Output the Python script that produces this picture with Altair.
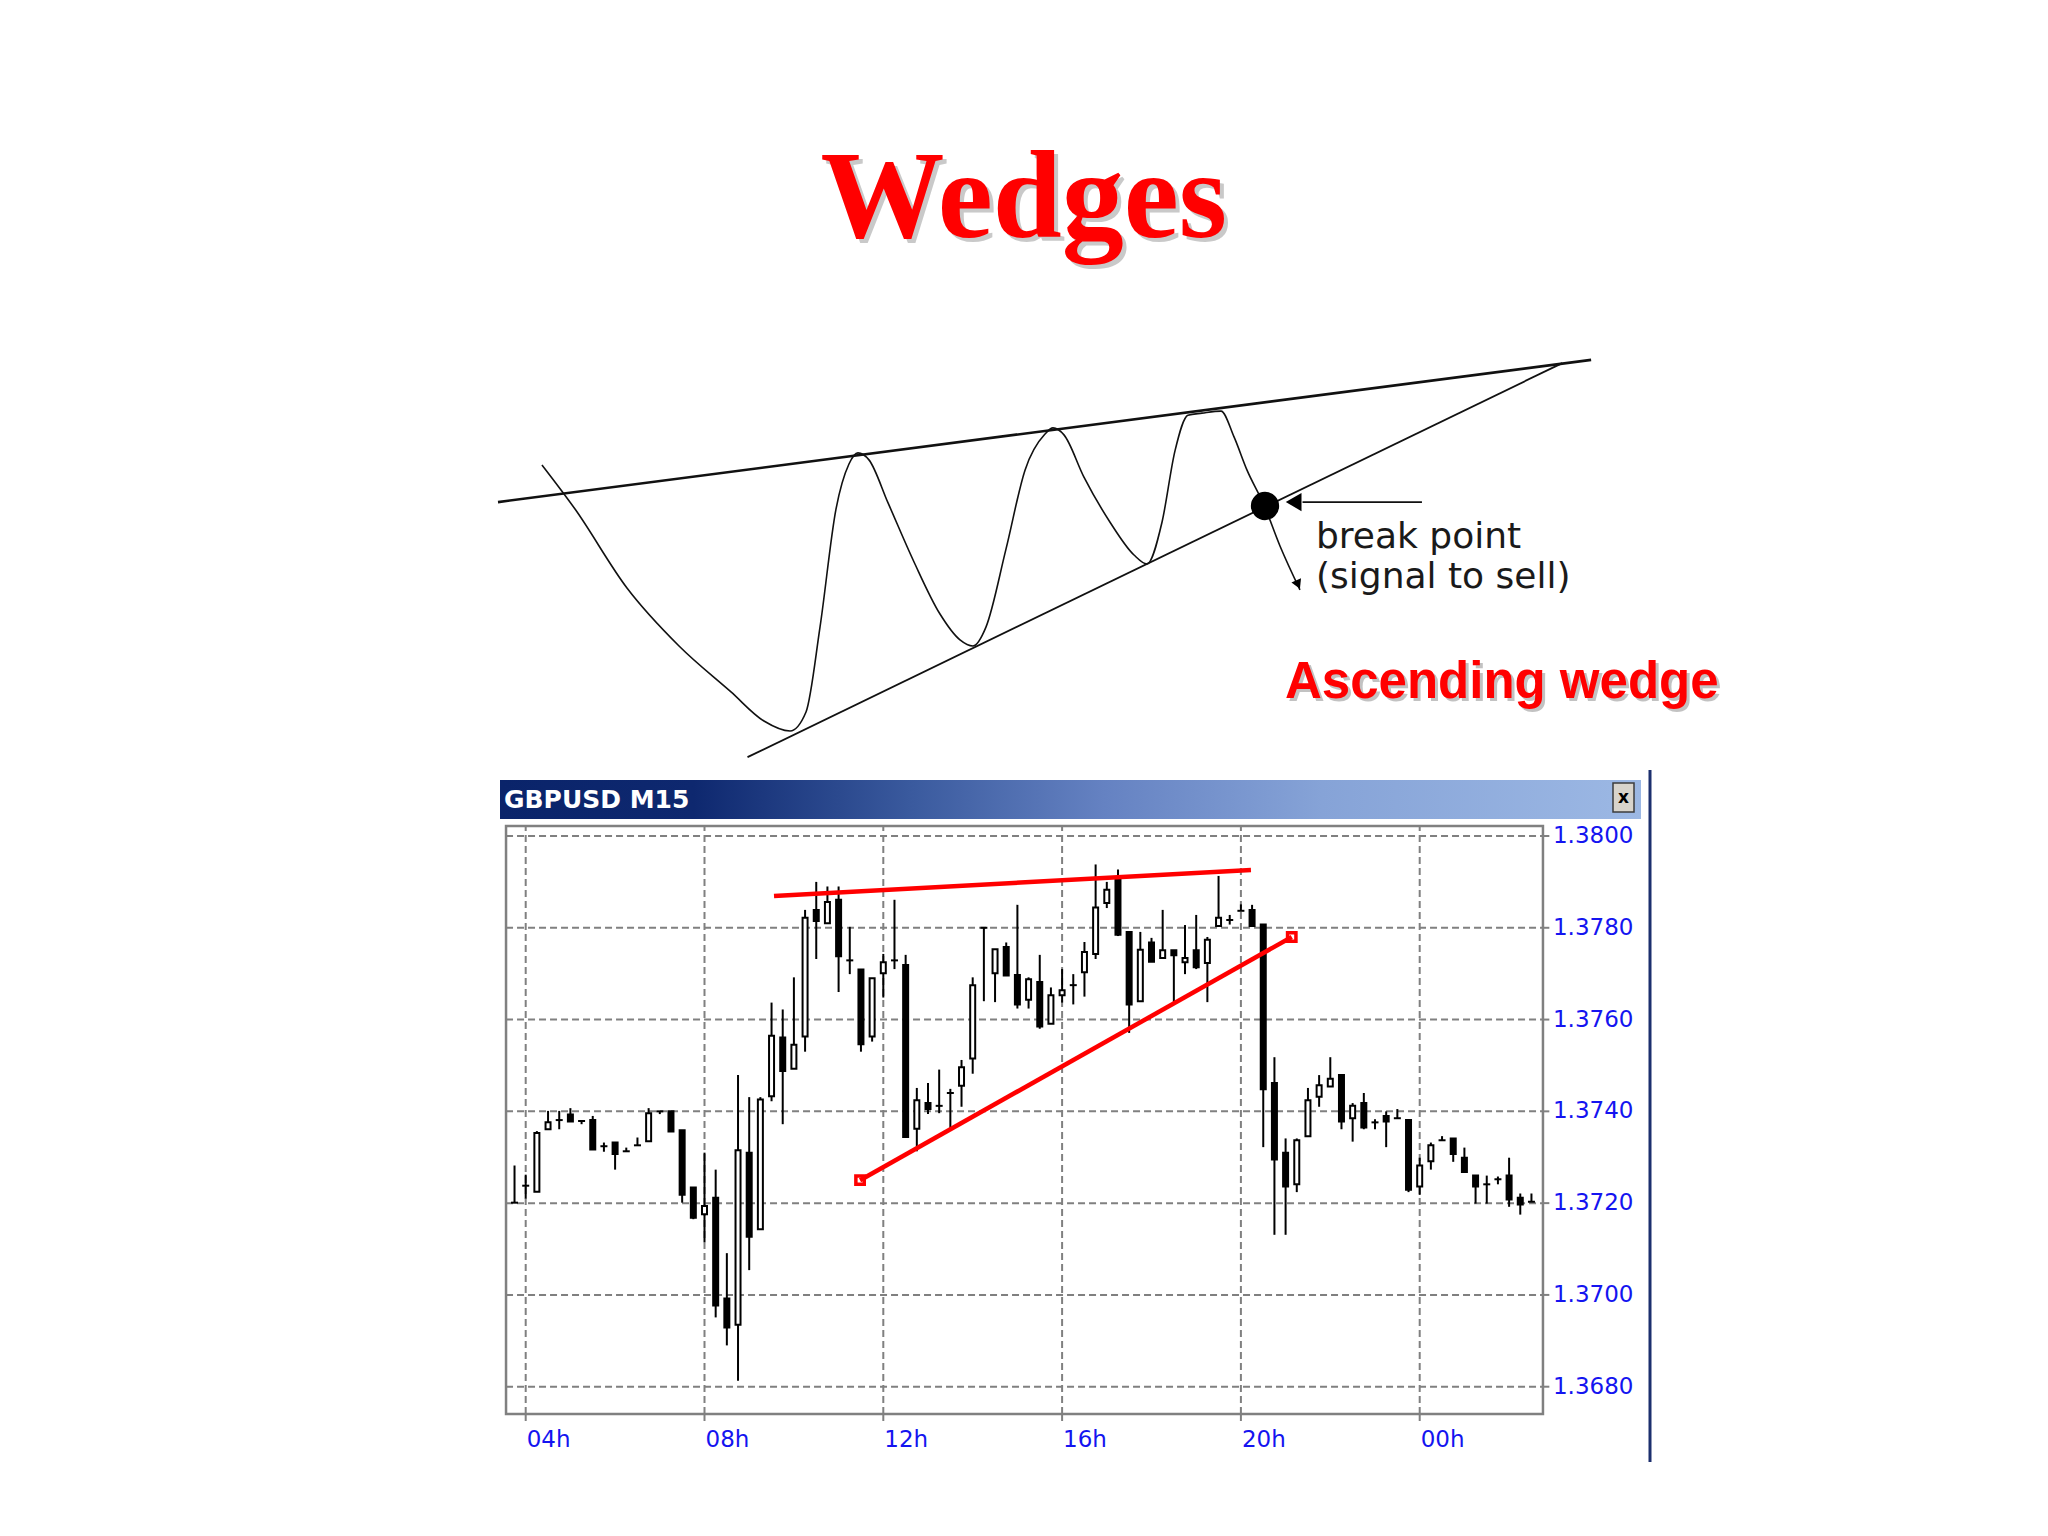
import altair as alt
import pandas as pd

# ---------------- GBPUSD M15 candles ----------------
OPEN = [1.37201, 1.37238, 1.37225, 1.37361, 1.37381, 1.37393, 1.37379, 1.37381, 1.37324, 1.37332,
        1.37313, 1.37326, 1.37335, 1.37400, 1.37400, 1.37359, 1.37234, 1.37176, 1.37212, 1.36992,
        1.36935, 1.37310, 1.37143, 1.37433, 1.37561, 1.37493, 1.37563, 1.37839, 1.37810, 1.37861,
        1.37729, 1.37709, 1.37563, 1.37701, 1.37729, 1.37719, 1.37362, 1.37418, 1.37412, 1.37440,
        1.37456, 1.37515, 1.37800, 1.37701, 1.37758, 1.37697, 1.37643, 1.37682, 1.37591, 1.37653,
        1.37675, 1.37703, 1.37743, 1.37854, 1.37905, 1.37791, 1.37640, 1.37768, 1.37734, 1.37751,
        1.37725, 1.37751, 1.37723, 1.37804, 1.37817, 1.37837, 1.37839, 1.37807, 1.37462, 1.37310,
        1.37241, 1.37346, 1.37432, 1.37454, 1.37479, 1.37385, 1.37418, 1.37376, 1.37390, 1.37385,
        1.37381, 1.37236, 1.37291, 1.37337, 1.37341, 1.37299, 1.37260, 1.37241, 1.37252, 1.37260,
        1.37212, 1.37203]
HIGH = [1.37282, 1.37262, 1.37357, 1.37401, 1.37401, 1.37407, 1.37379, 1.37390, 1.37332, 1.37332,
        1.37321, 1.37343, 1.37407, 1.37400, 1.37400, 1.37359, 1.37234, 1.37310, 1.37273, 1.37091,
        1.37479, 1.37431, 1.37431, 1.37637, 1.37622, 1.37692, 1.37839, 1.37900, 1.37890, 1.37890,
        1.37802, 1.37709, 1.37690, 1.37743, 1.37861, 1.37741, 1.37451, 1.37462, 1.37491, 1.37449,
        1.37512, 1.37692, 1.37800, 1.37753, 1.37768, 1.37850, 1.37692, 1.37741, 1.37670, 1.37710,
        1.37699, 1.37769, 1.37938, 1.37900, 1.37927, 1.37791, 1.37791, 1.37778, 1.37839, 1.37751,
        1.37806, 1.37828, 1.37780, 1.37913, 1.37828, 1.37851, 1.37850, 1.37807, 1.37518, 1.37341,
        1.37341, 1.37451, 1.37479, 1.37518, 1.37479, 1.37418, 1.37440, 1.37383, 1.37400, 1.37405,
        1.37381, 1.37299, 1.37332, 1.37346, 1.37341, 1.37321, 1.37260, 1.37260, 1.37258, 1.37299,
        1.37221, 1.37221]
LOW = [1.37201, 1.37210, 1.37225, 1.37361, 1.37361, 1.37378, 1.37372, 1.37317, 1.37312, 1.37273,
       1.37313, 1.37326, 1.37335, 1.37394, 1.37356, 1.37201, 1.37165, 1.37115, 1.36951, 1.36890,
       1.36813, 1.37054, 1.37143, 1.37422, 1.37372, 1.37493, 1.37530, 1.37732, 1.37810, 1.37660,
       1.37699, 1.37530, 1.37552, 1.37648, 1.37710, 1.37344, 1.37313, 1.37394, 1.37396, 1.37361,
       1.37410, 1.37482, 1.37640, 1.37638, 1.37696, 1.37624, 1.37624, 1.37580, 1.37591, 1.37637,
       1.37633, 1.37650, 1.37732, 1.37843, 1.37782, 1.37571, 1.37640, 1.37726, 1.37734, 1.37638,
       1.37699, 1.37710, 1.37638, 1.37804, 1.37807, 1.37837, 1.37804, 1.37322, 1.37131, 1.37131,
       1.37224, 1.37346, 1.37410, 1.37454, 1.37361, 1.37334, 1.37361, 1.37361, 1.37322, 1.37385,
       1.37224, 1.37218, 1.37273, 1.37337, 1.37290, 1.37268, 1.37199, 1.37199, 1.37241, 1.37192,
       1.37175, 1.37203]
CLOSE = [1.37201, 1.37238, 1.37353, 1.37376, 1.37381, 1.37378, 1.37379, 1.37317, 1.37324, 1.37307,
         1.37313, 1.37326, 1.37396, 1.37400, 1.37356, 1.37218, 1.37168, 1.37194, 1.36977, 1.36929,
         1.37315, 1.37127, 1.37426, 1.37565, 1.37488, 1.37545, 1.37822, 1.37815, 1.37856, 1.37738,
         1.37729, 1.37546, 1.37690, 1.37725, 1.37729, 1.37344, 1.37424, 1.37405, 1.37412, 1.37440,
         1.37496, 1.37675, 1.37800, 1.37753, 1.37696, 1.37633, 1.37688, 1.37585, 1.37653, 1.37664,
         1.37675, 1.37747, 1.37844, 1.37883, 1.37785, 1.37633, 1.37752, 1.37726, 1.37751, 1.37740,
         1.37734, 1.37714, 1.37774, 1.37822, 1.37817, 1.37837, 1.37804, 1.37448, 1.37295, 1.37236,
         1.37337, 1.37424, 1.37457, 1.37471, 1.37378, 1.37412, 1.37365, 1.37376, 1.37378, 1.37385,
         1.37229, 1.37282, 1.37326, 1.37337, 1.37307, 1.37268, 1.37236, 1.37241, 1.37252, 1.37208,
         1.37197, 1.37203]
BAR_INDEX = list(range(len(OPEN)))

PRICE_TICKS = [1.3680, 1.3700, 1.3720, 1.3740, 1.3760, 1.3780, 1.3800]
PRICE_LABELS = ["1.3680", "1.3700", "1.3720", "1.3740", "1.3760", "1.3780", "1.3800"]
TIME_TICK_BARS = [1, 17, 33, 49, 65, 81]
TIME_LABELS = ["04h", "08h", "12h", "16h", "20h", "00h"]

FRAME_BARS = [-0.76, 92.03]
FRAME_PRICES = [1.367405, 1.380218]
TICK_BELOW_PRICE = 1.367253
TICK_RIGHT_BAR = 92.6

UPPER_TREND_BARS = [23.22, 65.9]
UPPER_TREND_PRICES = [1.37869, 1.37926]
LOWER_TREND_BARS = [30.92, 69.55]
LOWER_TREND_PRICES = [1.37250, 1.37780]

# ---------------- wedge sketch (diagram units 0..100) ----------------
WAVE_U = [4.68, 7.66, 12.34, 17.03, 21.71, 24.68, 27.03, 28.47, 29.73, 31.17, 32.34, 33.15, 34.14,
          35.86, 38.2, 40.54, 42.34, 43.51, 44.68, 46.49, 48.2, 50.0, 50.72, 51.71, 53.51, 55.86,
          58.02, 59.19, 60.54, 61.71, 62.88, 64.14, 65.86, 67.03, 68.2, 69.73, 71.17, 72.97]
WAVE_V = [71.95, 61.2, 41.95, 27.8, 16.6, 9.5, 7.07, 11.7, 32.4, 61.2, 72.2, 74.9, 73.2,
          62.7, 48.3, 35.6, 29.3, 27.8, 32.4, 51.5, 70.7, 79.5, 81.0, 79.3, 69.0, 58.0,
          50.0, 47.8, 58.0, 75.4, 84.1, 84.6, 85.1, 78.8, 70.7, 62.2, 52.2, 41.5]
RESIST_U = [0.72, 99.2]
RESIST_V = [62.9, 97.6]
SUPPORT_U = [23.2, 96.6]
SUPPORT_V = [0.7, 96.8]
BREAK_U = [69.82]
BREAK_V = [61.95]
POINTER_U = [73.2, 83.96]
POINTER_V = [62.9, 62.9]
POINTER_HEAD_U = [72.4]
TIP_U = [72.8]
TIP_V = [42.8]

# ---------------- build tables ----------------
candles = pd.DataFrame({"i": BAR_INDEX, "o": OPEN, "h": HIGH, "l": LOW, "c": CLOSE})
candles["b0"] = candles[["o", "c"]].min(axis=1)
candles["b1"] = candles[["o", "c"]].max(axis=1)
candles["dir"] = ["up" if c > o else "down" for o, c in zip(OPEN, CLOSE)]
bodies = candles[candles["o"] != candles["c"]]
dojis = candles[candles["o"] == candles["c"]]

XS = alt.Scale(domain=[1, 81], range=[517.7, 1411.7], nice=False, zero=False, padding=0)
YS = alt.Scale(domain=[1.368, 1.380], range=[1378.7, 828], nice=False, zero=False, padding=0)


def X(f):
    return alt.X(f, type="quantitative", scale=XS, axis=None)


def Y(f):
    return alt.Y(f, type="quantitative", scale=YS, axis=None)


GRID = "#808080"
BLUE = "#1414f0"

hgrid = pd.DataFrame({"p": PRICE_TICKS, "lab": PRICE_LABELS,
                      "x0": FRAME_BARS[0], "x1": FRAME_BARS[1], "xr": TICK_RIGHT_BAR})
vgrid = pd.DataFrame({"i": TIME_TICK_BARS, "lab": TIME_LABELS,
                      "p0": FRAME_PRICES[0], "p1": FRAME_PRICES[1], "pb": TICK_BELOW_PRICE})
frame = pd.DataFrame({"x0": [FRAME_BARS[0]], "x1": [FRAME_BARS[1]],
                      "p0": [FRAME_PRICES[0]], "p1": [FRAME_PRICES[1]]})
trends = pd.DataFrame({"x0": [UPPER_TREND_BARS[0], LOWER_TREND_BARS[0]],
                       "x1": [UPPER_TREND_BARS[1], LOWER_TREND_BARS[1]],
                       "p0": [UPPER_TREND_PRICES[0], LOWER_TREND_PRICES[0]],
                       "p1": [UPPER_TREND_PRICES[1], LOWER_TREND_PRICES[1]]})
trend_ends = pd.DataFrame({"x": LOWER_TREND_BARS, "p": LOWER_TREND_PRICES})

h_dash = alt.Chart(hgrid).mark_rule(color=GRID, strokeWidth=2, strokeDash=[7, 4]).encode(
    x=X("x0"), x2="x1", y=Y("p"))
h_tick = alt.Chart(hgrid).mark_rule(color=GRID, strokeWidth=2).encode(
    x=X("x1"), x2="xr", y=Y("p"))
v_dash = alt.Chart(vgrid).mark_rule(color=GRID, strokeWidth=2, strokeDash=[7, 4]).encode(
    x=X("i"), y=Y("p0"), y2="p1")
v_tick = alt.Chart(vgrid).mark_rule(color=GRID, strokeWidth=2).encode(
    x=X("i"), y=Y("pb"), y2="p0")
frame_rect = alt.Chart(frame).mark_rect(filled=False, stroke=GRID, strokeWidth=2.5).encode(
    x=X("x0"), x2="x1", y=Y("p0"), y2="p1")
y_labels = alt.Chart(hgrid).mark_text(align="left", baseline="middle", dx=10, font="DejaVu Sans",
                                      fontSize=23, color=BLUE).encode(
    x=X("x1"), y=Y("p"), text="lab:N")
x_labels = alt.Chart(vgrid).mark_text(align="left", baseline="middle", dx=1, dy=26,
                                      font="DejaVu Sans", fontSize=23, color=BLUE).encode(
    x=X("i"), y=Y("p0"), text="lab:N")

wicks = alt.Chart(candles).mark_rule(color="black", strokeWidth=2).encode(
    x=X("i"), y=Y("l"), y2="h")
body = alt.Chart(bodies).mark_bar(size=5, stroke="black", strokeWidth=2).encode(
    x=X("i"), y=Y("b0"), y2="b1",
    fill=alt.Fill("dir:N", scale=alt.Scale(domain=["up", "down"], range=["white", "black"]),
                  legend=None))
doji = alt.Chart(dojis).mark_tick(orient="horizontal", size=7, thickness=2, color="black",
                                  opacity=1).encode(x=X("i"), y=Y("o"))
trend_lines = alt.Chart(trends).mark_rule(color="#ff0000", strokeWidth=4.5).encode(
    x=X("x0"), x2="x1", y=Y("p0"), y2="p1")
trend_marks = alt.Chart(trend_ends).mark_point(shape="square", size=70, filled=False,
                                               color="#ff0000", strokeWidth=3.5, opacity=1).encode(
    x=X("x"), y=Y("p"))

price_chart = alt.layer(h_dash, h_tick, v_dash, v_tick, frame_rect, wicks, body, doji,
                        trend_lines, trend_marks, y_labels, x_labels)

# ---------------- wedge sketch ----------------
DU = alt.Scale(domain=[0, 100], range=[482, 1592], nice=False, zero=False, padding=0)
DV = alt.Scale(domain=[0, 100], range=[752, 342], nice=False, zero=False, padding=0)


def U(f):
    return alt.X(f, type="quantitative", scale=DU, axis=None)


def V(f):
    return alt.Y(f, type="quantitative", scale=DV, axis=None)


wave = pd.DataFrame({"u": WAVE_U, "v": WAVE_V, "k": list(range(len(WAVE_U)))})
bounds = pd.DataFrame({"u0": [RESIST_U[0], SUPPORT_U[0]], "u1": [RESIST_U[1], SUPPORT_U[1]],
                       "v0": [RESIST_V[0], SUPPORT_V[0]], "v1": [RESIST_V[1], SUPPORT_V[1]],
                       "w": ["r", "s"]})
pointer = pd.DataFrame({"u0": [POINTER_U[0]], "u1": [POINTER_U[1]],
                        "v0": [POINTER_V[0]], "v1": [POINTER_V[1]]})

wave_line = alt.Chart(wave).mark_line(color="#111111", strokeWidth=1.6, interpolate="monotone").encode(
    x=U("u"), y=V("v"), order="k:Q")
resist = alt.Chart(bounds[bounds.w == "r"]).mark_rule(color="#111111", strokeWidth=2.6).encode(
    x=U("u0"), x2="u1", y=V("v0"), y2="v1")
support = alt.Chart(bounds[bounds.w == "s"]).mark_rule(color="#111111", strokeWidth=1.8).encode(
    x=U("u0"), x2="u1", y=V("v0"), y2="v1")
break_dot = alt.Chart(pd.DataFrame({"u": BREAK_U, "v": BREAK_V})).mark_point(
    filled=True, size=800, color="black", opacity=1).encode(x=U("u"), y=V("v"))
pointer_line = alt.Chart(pointer).mark_rule(color="#111111", strokeWidth=1.8).encode(
    x=U("u0"), x2="u1", y=V("v0"), y2="v1")
pointer_head = alt.Chart(pd.DataFrame({"u": POINTER_HEAD_U, "v": POINTER_V[:1]})).mark_point(
    shape="triangle-left", filled=True, size=330, color="black", opacity=1).encode(x=U("u"), y=V("v"))
tip_head = alt.Chart(pd.DataFrame({"u": TIP_U, "v": TIP_V})).mark_point(
    shape="triangle-down", filled=True, size=110, angle=336, color="black", opacity=1).encode(
    x=U("u"), y=V("v"))

sketch = alt.layer(resist, support, wave_line, pointer_line, pointer_head, break_dot, tip_head)

# ---------------- page furniture (text, window header) ----------------
dummy = pd.DataFrame({"d": [0]})


def txt(s, x, y, **kw):
    return alt.Chart(dummy).mark_text(text=s, **kw).encode(x=alt.value(x), y=alt.value(y))


title_shadow = txt("Wedges", 1019.7, 232.7, align="center", baseline="alphabetic",
                   font="Liberation Serif", fontWeight="bold", fontSize=124, color="#8a8a8a",
                   opacity=0.45)
title = txt("Wedges", 1015.7, 228.7, align="center", baseline="alphabetic",
            font="Liberation Serif", fontWeight="bold", fontSize=124, color="#ff0000")
asc_shadow = txt("Ascending wedge", 1280, 693.3, align="left", baseline="alphabetic",
                 font="Liberation Sans", fontWeight="bold", fontSize=51, color="#7a7a7a", opacity=0.45)
asc = txt("Ascending wedge", 1277, 690.3, align="left", baseline="alphabetic",
          font="Liberation Sans", fontWeight="bold", fontSize=51, color="#ff0000")
bp1 = txt("break point", 1308, 540, align="left", baseline="alphabetic",
          font="DejaVu Sans", fontSize=36, color="#1a1a1a")
bp2 = txt("(signal to sell)", 1308, 580, align="left", baseline="alphabetic",
          font="DejaVu Sans", fontSize=36, color="#1a1a1a")

header = alt.Chart(dummy).mark_rect(
    color=alt.LinearGradient(
        gradient="linear", x1=0, x2=1, y1=0, y2=0,
        stops=[alt.GradientStop(color="#0a246a", offset=0),
               alt.GradientStop(color="#0e286f", offset=0.17),
               alt.GradientStop(color="#3a5a9e", offset=0.36),
               alt.GradientStop(color="#6582c2", offset=0.53),
               alt.GradientStop(color="#86a3d7", offset=0.72),
               alt.GradientStop(color="#9cb8e4", offset=1)])
).encode(x=alt.value(492), x2=alt.value(1633), y=alt.value(772), y2=alt.value(811))
header_text = txt("GBPUSD M15", 496, 800, align="left", baseline="alphabetic",
                  font="DejaVu Sans", fontWeight="bold", fontSize=25, color="white")
close_btn = alt.Chart(dummy).mark_rect(color="#d8d4cc", stroke="#3c3c3c", strokeWidth=1.5).encode(
    x=alt.value(1605), x2=alt.value(1626), y=alt.value(775), y2=alt.value(804))
close_x = txt("x", 1615.5, 789.5, align="center", baseline="middle", font="DejaVu Sans",
              fontWeight="bold", fontSize=17, color="black")
side_line = alt.Chart(dummy).mark_rule(color="#1c2f6e", strokeWidth=3).encode(
    x=alt.value(1642), y=alt.value(762), y2=alt.value(1454))

furniture = alt.layer(header, header_text, close_btn, close_x, side_line,
                      title_shadow, title, asc_shadow, asc, bp1, bp2)

chart = alt.layer(sketch, price_chart, furniture).resolve_scale(
    x="independent", y="independent", fill="independent"
).properties(
    width=2032, height=1520, autosize=alt.AutoSizeParams(type="none"), padding=0,
    background="white"
).configure_view(stroke=None)

chart.save("out.html", embed_options={"renderer": "svg", "actions": False})
